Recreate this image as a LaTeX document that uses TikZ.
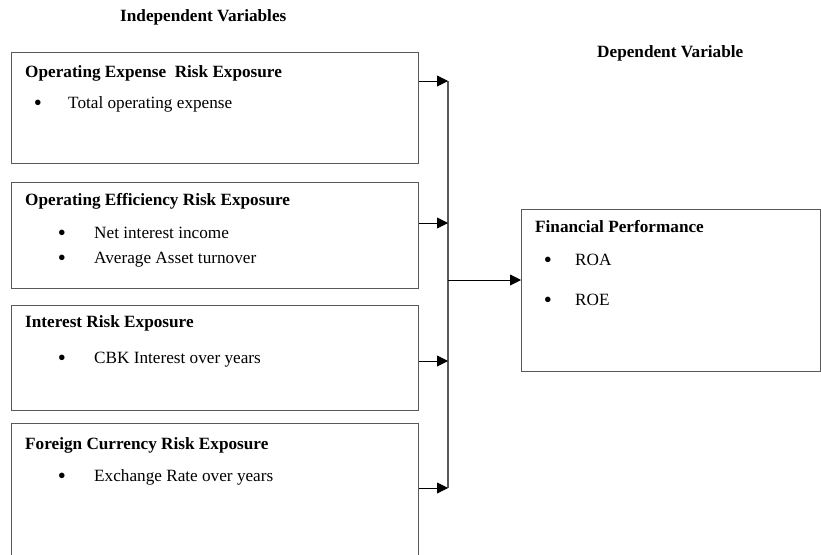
\documentclass[tikz,border=0pt]{standalone}
\usepackage{fontspec}
\setmainfont{Liberation Serif}
\usetikzlibrary{arrows.meta}
\begin{document}
\begin{tikzpicture}[x=1pt,y=-1pt,
  box/.style={draw=black!65,line width=1.1pt,rectangle,inner sep=0pt,anchor=north west},
  ttl/.style={anchor=base west,inner sep=0pt,font=\fontsize{17.2}{20}\selectfont\bfseries},
  txt/.style={anchor=base west,inner sep=0pt,font=\fontsize{17.2}{20}\selectfont},
  bul/.style={anchor=center,inner sep=0pt,font=\fontsize{23}{23}\selectfont},
  conn/.style={draw=black!65,line width=1.1pt},
  arr/.style={draw=black,line width=0.9pt,-{Triangle[length=11pt,width=11pt]}},
]
\useasboundingbox (0,0) rectangle (821,554);

% headers
\node[ttl] (hind) at (120,21) {Independent Variables};
\node[ttl] (hdep) at (597,57) {Dependent Variable};

% boxes
\node[box,minimum width=407pt,minimum height=111pt] (b1) at (11,52) {};
\node[box,minimum width=407pt,minimum height=106pt] (b2) at (11,182) {};
\node[box,minimum width=407pt,minimum height=105pt] (b3) at (11,305) {};
\node[box,minimum width=407pt,minimum height=140pt] (b4) at (11,423) {};
\node[box,minimum width=299pt,minimum height=162pt] (fp) at (521,209) {};

% box 1
\node[ttl] (t1) at (25,77) {Operating Expense\ \ Risk Exposure};
\node[bul] (p1a) at (38,105) {\textbullet};
\node[txt] (s1a) at (68,108) {Total operating expense};

% box 2
\node[ttl] (t2) at (25,205) {Operating Efficiency Risk Exposure};
\node[bul] (p2a) at (62,235) {\textbullet};
\node[txt] (s2a) at (94,238) {Net interest income};
\node[bul] (p2b) at (62,260) {\textbullet};
\node[txt] (s2b) at (94,263) {Average Asset turnover};

% box 3
\node[ttl] (t3) at (25,327) {Interest Risk Exposure};
\node[bul] (p3a) at (62,360) {\textbullet};
\node[txt] (s3a) at (94,363) {CBK Interest over years};

% box 4
\node[ttl] (t4) at (25,449) {Foreign Currency Risk Exposure};
\node[bul] (p4a) at (62,478) {\textbullet};
\node[txt] (s4a) at (94,481) {Exchange Rate over years};

% right box
\node[ttl] (tf) at (535,232) {Financial Performance};
\node[bul] (pfa) at (548,262) {\textbullet};
\node[txt] (sfa) at (575,265) {ROA};
\node[bul] (pfb) at (548,302) {\textbullet};
\node[txt] (sfb) at (575,305) {ROE};

% connectors
\coordinate (v1) at (448,81);
\coordinate (v2) at (448,223);
\coordinate (v3) at (448,361);
\coordinate (v4) at (448,488);
\coordinate (vm) at (448,280);

\draw[conn] (v1) -- (v4);
\draw[arr] (b1.east |- v1) -- (v1);
\draw[arr] (b2.east |- v2) -- (v2);
\draw[arr] (b3.east |- v3) -- (v3);
\draw[arr] (b4.east |- v4) -- (v4);
\draw[arr] (vm) -- (fp.west |- vm);
\end{tikzpicture}
\end{document}
